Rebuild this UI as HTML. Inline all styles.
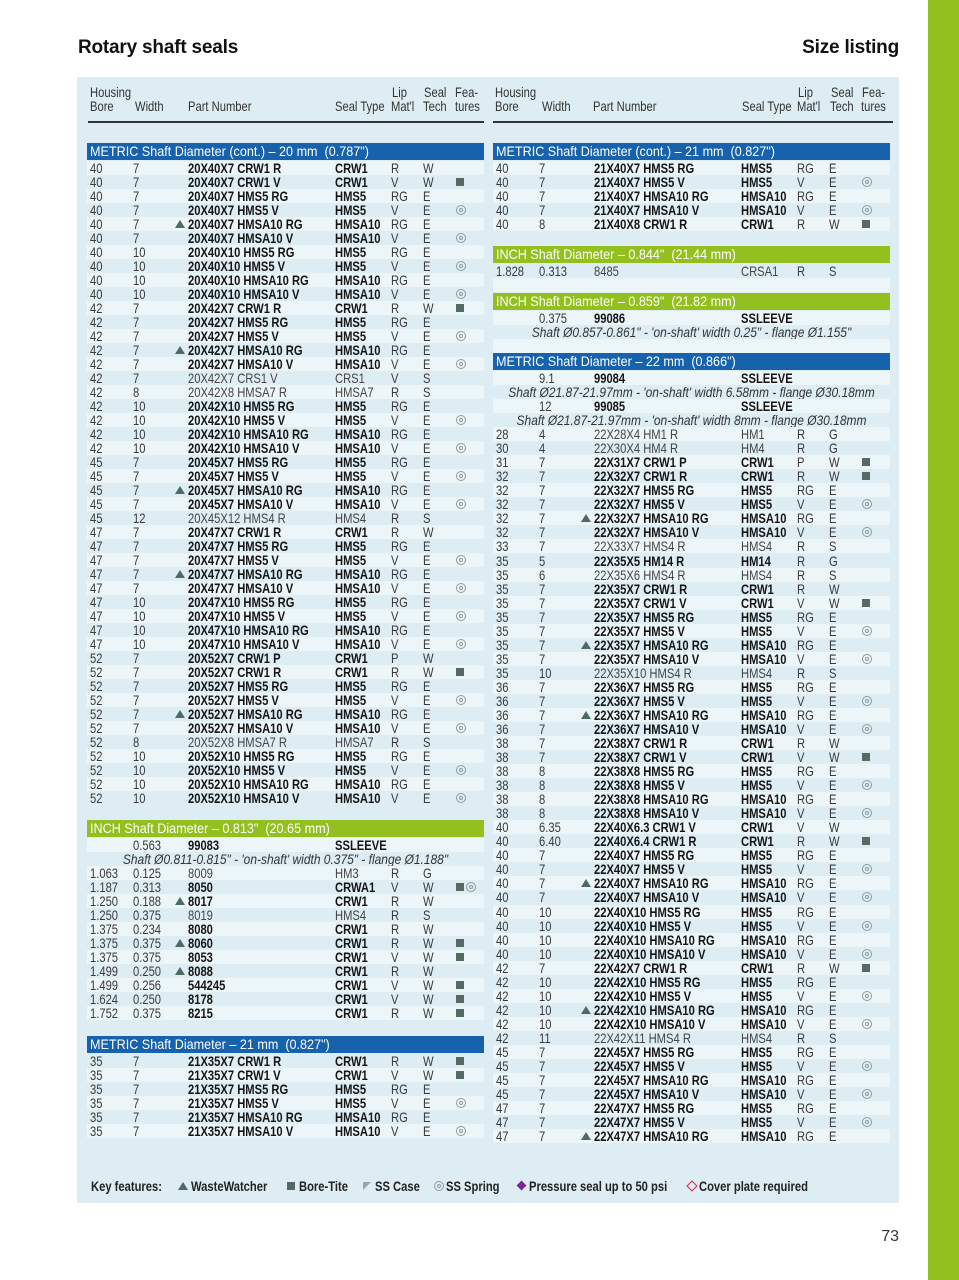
<!DOCTYPE html>
<html><head><meta charset="utf-8">
<style>
*{margin:0;padding:0}
body{width:959px;height:1280px;position:relative;background:#fff;font-family:"Liberation Sans",sans-serif;overflow:hidden;color:#333}
.panel{position:absolute;left:77px;top:77px;width:822px;height:1126px;background:#ddedf3}
.strip{position:absolute;left:928px;top:0;width:31px;height:1280px;background:#93c01f}
.title{position:absolute;top:38px;line-height:19px;font-size:19px;font-weight:bold;color:#111;letter-spacing:-0.2px;white-space:nowrap}
.pg{position:absolute;right:60px;top:1229px;line-height:16px;font-size:16px;color:#333}
.h{position:absolute;font-size:14px;line-height:14px;white-space:nowrap;transform:scaleX(.8);transform-origin:0 50%;color:#333}
.ul{position:absolute;top:121px;height:1.5px;background:#333}
.L{left:87px}.R{left:493px}
.r{position:absolute;height:14px;width:397px}
.r.a{background:#ecf5f8}
.r span{position:absolute;top:0;line-height:14px;font-size:14px;white-space:nowrap;transform:scaleX(.8);transform-origin:0 50%;color:#3a3a3a}
.c1{left:3px}.c2{left:46px}.c3{left:101px}.c4{left:248px}.c5{left:304px}.c6{left:336px}
.r .c3,.r .c4{font-weight:bold;color:#151515}
.r.n .c3,.r.n .c4{font-weight:normal;color:#444}
.r span.it{left:-50px;width:497px;text-align:center;font-style:italic;transform:scaleX(.855);transform-origin:50% 50%;color:#333}
.sq{position:absolute;left:369px;top:3px;width:8px;height:8px;background:#566965}
.ci{position:absolute;left:369px;top:2px;width:10px;height:10px;border-radius:50%;border:1px solid #8d9c9c;box-sizing:border-box}
.ci::after{content:"";position:absolute;left:2px;top:2px;width:4px;height:4px;border-radius:50%;border:1px solid #8d9c9c;box-sizing:border-box}
.ci.x{left:379px}
.tr{position:absolute;left:88px;top:3px;width:0;height:0;border-left:5px solid transparent;border-right:5px solid transparent;border-bottom:8px solid #4f6a65}
.bar{position:absolute;height:17px;width:397px;color:#fff}
.bar span{position:absolute;left:3px;top:0;line-height:17px;font-size:14px;white-space:nowrap;transform:scaleX(.9);transform-origin:0 50%}
.bl{background:#1662ad}.gr{background:#93c01f}
.k{position:absolute;top:1179px;line-height:14px;font-size:14px;font-weight:bold;color:#222;white-space:nowrap;transform:scaleX(.8);transform-origin:0 50%}
.ki{position:absolute}
</style></head><body>
<div class="strip"></div>
<div class="title" style="left:78px">Rotary shaft seals</div>
<div class="title" style="right:60px">Size listing</div>
<div class="panel"></div>

<!-- headers left -->
<div class="h" style="left:90px;top:85px">Housing</div>
<div class="h" style="left:90px;top:99px">Bore</div>
<div class="h" style="left:135px;top:99px">Width</div>
<div class="h" style="left:188px;top:99px">Part Number</div>
<div class="h" style="left:335px;top:99px">Seal Type</div>
<div class="h" style="left:392px;top:85px">Lip</div>
<div class="h" style="left:391px;top:99px">Mat'l</div>
<div class="h" style="left:424px;top:85px">Seal</div>
<div class="h" style="left:423px;top:99px">Tech</div>
<div class="h" style="left:455px;top:85px">Fea-</div>
<div class="h" style="left:455px;top:99px">tures</div>
<div class="ul" style="left:88px;width:396px"></div>
<!-- headers right -->
<div class="h" style="left:495px;top:85px">Housing</div>
<div class="h" style="left:495px;top:99px">Bore</div>
<div class="h" style="left:542px;top:99px">Width</div>
<div class="h" style="left:593px;top:99px">Part Number</div>
<div class="h" style="left:742px;top:99px">Seal Type</div>
<div class="h" style="left:798px;top:85px">Lip</div>
<div class="h" style="left:797px;top:99px">Mat'l</div>
<div class="h" style="left:831px;top:85px">Seal</div>
<div class="h" style="left:830px;top:99px">Tech</div>
<div class="h" style="left:862px;top:85px">Fea-</div>
<div class="h" style="left:861px;top:99px">tures</div>
<div class="ul" style="left:493px;width:400px"></div>

<!-- LEFT: METRIC 20 -->
<div class="bar bl L" style="top:143px"><span>METRIC Shaft Diameter (cont.) – 20 mm &nbsp;(0.787")</span></div>
<div class="r a L" style="top:161px"><span class="c1">40</span><span class="c2">7</span><span class="c3">20X40X7 CRW1 R</span><span class="c4">CRW1</span><span class="c5">R</span><span class="c6">W</span></div>
<div class="r L" style="top:175px"><span class="c1">40</span><span class="c2">7</span><span class="c3">20X40X7 CRW1 V</span><span class="c4">CRW1</span><span class="c5">V</span><span class="c6">W</span><i class="sq"></i></div>
<div class="r a L" style="top:189px"><span class="c1">40</span><span class="c2">7</span><span class="c3">20X40X7 HMS5 RG</span><span class="c4">HMS5</span><span class="c5">RG</span><span class="c6">E</span></div>
<div class="r L" style="top:203px"><span class="c1">40</span><span class="c2">7</span><span class="c3">20X40X7 HMS5 V</span><span class="c4">HMS5</span><span class="c5">V</span><span class="c6">E</span><i class="ci"></i></div>
<div class="r a L" style="top:217px"><span class="c1">40</span><span class="c2">7</span><i class="tr"></i><span class="c3">20X40X7 HMSA10 RG</span><span class="c4">HMSA10</span><span class="c5">RG</span><span class="c6">E</span></div>
<div class="r L" style="top:231px"><span class="c1">40</span><span class="c2">7</span><span class="c3">20X40X7 HMSA10 V</span><span class="c4">HMSA10</span><span class="c5">V</span><span class="c6">E</span><i class="ci"></i></div>
<div class="r a L" style="top:245px"><span class="c1">40</span><span class="c2">10</span><span class="c3">20X40X10 HMS5 RG</span><span class="c4">HMS5</span><span class="c5">RG</span><span class="c6">E</span></div>
<div class="r L" style="top:259px"><span class="c1">40</span><span class="c2">10</span><span class="c3">20X40X10 HMS5 V</span><span class="c4">HMS5</span><span class="c5">V</span><span class="c6">E</span><i class="ci"></i></div>
<div class="r a L" style="top:273px"><span class="c1">40</span><span class="c2">10</span><span class="c3">20X40X10 HMSA10 RG</span><span class="c4">HMSA10</span><span class="c5">RG</span><span class="c6">E</span></div>
<div class="r L" style="top:287px"><span class="c1">40</span><span class="c2">10</span><span class="c3">20X40X10 HMSA10 V</span><span class="c4">HMSA10</span><span class="c5">V</span><span class="c6">E</span><i class="ci"></i></div>
<div class="r a L" style="top:301px"><span class="c1">42</span><span class="c2">7</span><span class="c3">20X42X7 CRW1 R</span><span class="c4">CRW1</span><span class="c5">R</span><span class="c6">W</span><i class="sq"></i></div>
<div class="r L" style="top:315px"><span class="c1">42</span><span class="c2">7</span><span class="c3">20X42X7 HMS5 RG</span><span class="c4">HMS5</span><span class="c5">RG</span><span class="c6">E</span></div>
<div class="r a L" style="top:329px"><span class="c1">42</span><span class="c2">7</span><span class="c3">20X42X7 HMS5 V</span><span class="c4">HMS5</span><span class="c5">V</span><span class="c6">E</span><i class="ci"></i></div>
<div class="r L" style="top:343px"><span class="c1">42</span><span class="c2">7</span><i class="tr"></i><span class="c3">20X42X7 HMSA10 RG</span><span class="c4">HMSA10</span><span class="c5">RG</span><span class="c6">E</span></div>
<div class="r a L" style="top:357px"><span class="c1">42</span><span class="c2">7</span><span class="c3">20X42X7 HMSA10 V</span><span class="c4">HMSA10</span><span class="c5">V</span><span class="c6">E</span><i class="ci"></i></div>
<div class="r n L" style="top:371px"><span class="c1">42</span><span class="c2">7</span><span class="c3">20X42X7 CRS1 V</span><span class="c4">CRS1</span><span class="c5">V</span><span class="c6">S</span></div>
<div class="r a n L" style="top:385px"><span class="c1">42</span><span class="c2">8</span><span class="c3">20X42X8 HMSA7 R</span><span class="c4">HMSA7</span><span class="c5">R</span><span class="c6">S</span></div>
<div class="r L" style="top:399px"><span class="c1">42</span><span class="c2">10</span><span class="c3">20X42X10 HMS5 RG</span><span class="c4">HMS5</span><span class="c5">RG</span><span class="c6">E</span></div>
<div class="r a L" style="top:413px"><span class="c1">42</span><span class="c2">10</span><span class="c3">20X42X10 HMS5 V</span><span class="c4">HMS5</span><span class="c5">V</span><span class="c6">E</span><i class="ci"></i></div>
<div class="r L" style="top:427px"><span class="c1">42</span><span class="c2">10</span><span class="c3">20X42X10 HMSA10 RG</span><span class="c4">HMSA10</span><span class="c5">RG</span><span class="c6">E</span></div>
<div class="r a L" style="top:441px"><span class="c1">42</span><span class="c2">10</span><span class="c3">20X42X10 HMSA10 V</span><span class="c4">HMSA10</span><span class="c5">V</span><span class="c6">E</span><i class="ci"></i></div>
<div class="r L" style="top:455px"><span class="c1">45</span><span class="c2">7</span><span class="c3">20X45X7 HMS5 RG</span><span class="c4">HMS5</span><span class="c5">RG</span><span class="c6">E</span></div>
<div class="r a L" style="top:469px"><span class="c1">45</span><span class="c2">7</span><span class="c3">20X45X7 HMS5 V</span><span class="c4">HMS5</span><span class="c5">V</span><span class="c6">E</span><i class="ci"></i></div>
<div class="r L" style="top:483px"><span class="c1">45</span><span class="c2">7</span><i class="tr"></i><span class="c3">20X45X7 HMSA10 RG</span><span class="c4">HMSA10</span><span class="c5">RG</span><span class="c6">E</span></div>
<div class="r a L" style="top:497px"><span class="c1">45</span><span class="c2">7</span><span class="c3">20X45X7 HMSA10 V</span><span class="c4">HMSA10</span><span class="c5">V</span><span class="c6">E</span><i class="ci"></i></div>
<div class="r n L" style="top:511px"><span class="c1">45</span><span class="c2">12</span><span class="c3">20X45X12 HMS4 R</span><span class="c4">HMS4</span><span class="c5">R</span><span class="c6">S</span></div>
<div class="r a L" style="top:525px"><span class="c1">47</span><span class="c2">7</span><span class="c3">20X47X7 CRW1 R</span><span class="c4">CRW1</span><span class="c5">R</span><span class="c6">W</span></div>
<div class="r L" style="top:539px"><span class="c1">47</span><span class="c2">7</span><span class="c3">20X47X7 HMS5 RG</span><span class="c4">HMS5</span><span class="c5">RG</span><span class="c6">E</span></div>
<div class="r a L" style="top:553px"><span class="c1">47</span><span class="c2">7</span><span class="c3">20X47X7 HMS5 V</span><span class="c4">HMS5</span><span class="c5">V</span><span class="c6">E</span><i class="ci"></i></div>
<div class="r L" style="top:567px"><span class="c1">47</span><span class="c2">7</span><i class="tr"></i><span class="c3">20X47X7 HMSA10 RG</span><span class="c4">HMSA10</span><span class="c5">RG</span><span class="c6">E</span></div>
<div class="r a L" style="top:581px"><span class="c1">47</span><span class="c2">7</span><span class="c3">20X47X7 HMSA10 V</span><span class="c4">HMSA10</span><span class="c5">V</span><span class="c6">E</span><i class="ci"></i></div>
<div class="r L" style="top:595px"><span class="c1">47</span><span class="c2">10</span><span class="c3">20X47X10 HMS5 RG</span><span class="c4">HMS5</span><span class="c5">RG</span><span class="c6">E</span></div>
<div class="r a L" style="top:609px"><span class="c1">47</span><span class="c2">10</span><span class="c3">20X47X10 HMS5 V</span><span class="c4">HMS5</span><span class="c5">V</span><span class="c6">E</span><i class="ci"></i></div>
<div class="r L" style="top:623px"><span class="c1">47</span><span class="c2">10</span><span class="c3">20X47X10 HMSA10 RG</span><span class="c4">HMSA10</span><span class="c5">RG</span><span class="c6">E</span></div>
<div class="r a L" style="top:637px"><span class="c1">47</span><span class="c2">10</span><span class="c3">20X47X10 HMSA10 V</span><span class="c4">HMSA10</span><span class="c5">V</span><span class="c6">E</span><i class="ci"></i></div>
<div class="r L" style="top:651px"><span class="c1">52</span><span class="c2">7</span><span class="c3">20X52X7 CRW1 P</span><span class="c4">CRW1</span><span class="c5">P</span><span class="c6">W</span></div>
<div class="r a L" style="top:665px"><span class="c1">52</span><span class="c2">7</span><span class="c3">20X52X7 CRW1 R</span><span class="c4">CRW1</span><span class="c5">R</span><span class="c6">W</span><i class="sq"></i></div>
<div class="r L" style="top:679px"><span class="c1">52</span><span class="c2">7</span><span class="c3">20X52X7 HMS5 RG</span><span class="c4">HMS5</span><span class="c5">RG</span><span class="c6">E</span></div>
<div class="r a L" style="top:693px"><span class="c1">52</span><span class="c2">7</span><span class="c3">20X52X7 HMS5 V</span><span class="c4">HMS5</span><span class="c5">V</span><span class="c6">E</span><i class="ci"></i></div>
<div class="r L" style="top:707px"><span class="c1">52</span><span class="c2">7</span><i class="tr"></i><span class="c3">20X52X7 HMSA10 RG</span><span class="c4">HMSA10</span><span class="c5">RG</span><span class="c6">E</span></div>
<div class="r a L" style="top:721px"><span class="c1">52</span><span class="c2">7</span><span class="c3">20X52X7 HMSA10 V</span><span class="c4">HMSA10</span><span class="c5">V</span><span class="c6">E</span><i class="ci"></i></div>
<div class="r n L" style="top:735px"><span class="c1">52</span><span class="c2">8</span><span class="c3">20X52X8 HMSA7 R</span><span class="c4">HMSA7</span><span class="c5">R</span><span class="c6">S</span></div>
<div class="r a L" style="top:749px"><span class="c1">52</span><span class="c2">10</span><span class="c3">20X52X10 HMS5 RG</span><span class="c4">HMS5</span><span class="c5">RG</span><span class="c6">E</span></div>
<div class="r L" style="top:763px"><span class="c1">52</span><span class="c2">10</span><span class="c3">20X52X10 HMS5 V</span><span class="c4">HMS5</span><span class="c5">V</span><span class="c6">E</span><i class="ci"></i></div>
<div class="r a L" style="top:777px"><span class="c1">52</span><span class="c2">10</span><span class="c3">20X52X10 HMSA10 RG</span><span class="c4">HMSA10</span><span class="c5">RG</span><span class="c6">E</span></div>
<div class="r L" style="top:791px"><span class="c1">52</span><span class="c2">10</span><span class="c3">20X52X10 HMSA10 V</span><span class="c4">HMSA10</span><span class="c5">V</span><span class="c6">E</span><i class="ci"></i></div>

<!-- LEFT: INCH 0.813 -->
<div class="bar gr L" style="top:820px"><span>INCH Shaft Diameter – 0.813" &nbsp;(20.65 mm)</span></div>
<div class="r a L" style="top:838px"><span class="c2">0.563</span><span class="c3">99083</span><span class="c4">SSLEEVE</span></div>
<div class="r L" style="top:852px"><span class="it">Shaft Ø0.811-0.815" - 'on-shaft' width 0.375" - flange Ø1.188"</span></div>
<div class="r a n L" style="top:866px"><span class="c1">1.063</span><span class="c2">0.125</span><span class="c3">8009</span><span class="c4">HM3</span><span class="c5">R</span><span class="c6">G</span></div>
<div class="r L" style="top:880px"><span class="c1">1.187</span><span class="c2">0.313</span><span class="c3">8050</span><span class="c4">CRWA1</span><span class="c5">V</span><span class="c6">W</span><i class="sq"></i><i class="ci x"></i></div>
<div class="r a L" style="top:894px"><span class="c1">1.250</span><span class="c2">0.188</span><i class="tr"></i><span class="c3">8017</span><span class="c4">CRW1</span><span class="c5">R</span><span class="c6">W</span></div>
<div class="r n L" style="top:908px"><span class="c1">1.250</span><span class="c2">0.375</span><span class="c3">8019</span><span class="c4">HMS4</span><span class="c5">R</span><span class="c6">S</span></div>
<div class="r a L" style="top:922px"><span class="c1">1.375</span><span class="c2">0.234</span><span class="c3">8080</span><span class="c4">CRW1</span><span class="c5">R</span><span class="c6">W</span></div>
<div class="r L" style="top:936px"><span class="c1">1.375</span><span class="c2">0.375</span><i class="tr"></i><span class="c3">8060</span><span class="c4">CRW1</span><span class="c5">R</span><span class="c6">W</span><i class="sq"></i></div>
<div class="r a L" style="top:950px"><span class="c1">1.375</span><span class="c2">0.375</span><span class="c3">8053</span><span class="c4">CRW1</span><span class="c5">V</span><span class="c6">W</span><i class="sq"></i></div>
<div class="r L" style="top:964px"><span class="c1">1.499</span><span class="c2">0.250</span><i class="tr"></i><span class="c3">8088</span><span class="c4">CRW1</span><span class="c5">R</span><span class="c6">W</span></div>
<div class="r a L" style="top:978px"><span class="c1">1.499</span><span class="c2">0.256</span><span class="c3">544245</span><span class="c4">CRW1</span><span class="c5">V</span><span class="c6">W</span><i class="sq"></i></div>
<div class="r L" style="top:992px"><span class="c1">1.624</span><span class="c2">0.250</span><span class="c3">8178</span><span class="c4">CRW1</span><span class="c5">V</span><span class="c6">W</span><i class="sq"></i></div>
<div class="r a L" style="top:1006px"><span class="c1">1.752</span><span class="c2">0.375</span><span class="c3">8215</span><span class="c4">CRW1</span><span class="c5">R</span><span class="c6">W</span><i class="sq"></i></div>

<!-- LEFT: METRIC 21 -->
<div class="bar bl L" style="top:1036px"><span>METRIC Shaft Diameter – 21 mm &nbsp;(0.827")</span></div>
<div class="r L" style="top:1054px"><span class="c1">35</span><span class="c2">7</span><span class="c3">21X35X7 CRW1 R</span><span class="c4">CRW1</span><span class="c5">R</span><span class="c6">W</span><i class="sq"></i></div>
<div class="r a L" style="top:1068px"><span class="c1">35</span><span class="c2">7</span><span class="c3">21X35X7 CRW1 V</span><span class="c4">CRW1</span><span class="c5">V</span><span class="c6">W</span><i class="sq"></i></div>
<div class="r L" style="top:1082px"><span class="c1">35</span><span class="c2">7</span><span class="c3">21X35X7 HMS5 RG</span><span class="c4">HMS5</span><span class="c5">RG</span><span class="c6">E</span></div>
<div class="r a L" style="top:1096px"><span class="c1">35</span><span class="c2">7</span><span class="c3">21X35X7 HMS5 V</span><span class="c4">HMS5</span><span class="c5">V</span><span class="c6">E</span><i class="ci"></i></div>
<div class="r L" style="top:1110px"><span class="c1">35</span><span class="c2">7</span><span class="c3">21X35X7 HMSA10 RG</span><span class="c4">HMSA10</span><span class="c5">RG</span><span class="c6">E</span></div>
<div class="r a L" style="top:1124px"><span class="c1">35</span><span class="c2">7</span><span class="c3">21X35X7 HMSA10 V</span><span class="c4">HMSA10</span><span class="c5">V</span><span class="c6">E</span><i class="ci"></i></div>

<!-- RIGHT: METRIC 21 cont -->
<div class="bar bl R" style="top:143px"><span>METRIC Shaft Diameter (cont.) – 21 mm &nbsp;(0.827")</span></div>
<div class="r a R" style="top:161px"><span class="c1">40</span><span class="c2">7</span><span class="c3">21X40X7 HMS5 RG</span><span class="c4">HMS5</span><span class="c5">RG</span><span class="c6">E</span></div>
<div class="r R" style="top:175px"><span class="c1">40</span><span class="c2">7</span><span class="c3">21X40X7 HMS5 V</span><span class="c4">HMS5</span><span class="c5">V</span><span class="c6">E</span><i class="ci"></i></div>
<div class="r a R" style="top:189px"><span class="c1">40</span><span class="c2">7</span><span class="c3">21X40X7 HMSA10 RG</span><span class="c4">HMSA10</span><span class="c5">RG</span><span class="c6">E</span></div>
<div class="r R" style="top:203px"><span class="c1">40</span><span class="c2">7</span><span class="c3">21X40X7 HMSA10 V</span><span class="c4">HMSA10</span><span class="c5">V</span><span class="c6">E</span><i class="ci"></i></div>
<div class="r a R" style="top:217px"><span class="c1">40</span><span class="c2">8</span><span class="c3">21X40X8 CRW1 R</span><span class="c4">CRW1</span><span class="c5">R</span><span class="c6">W</span><i class="sq"></i></div>

<!-- RIGHT: INCH 0.844 -->
<div class="bar gr R" style="top:246px"><span>INCH Shaft Diameter – 0.844" &nbsp;(21.44 mm)</span></div>
<div class="r n R" style="top:264px"><span class="c1">1.828</span><span class="c2">0.313</span><span class="c3">8485</span><span class="c4">CRSA1</span><span class="c5">R</span><span class="c6">S</span></div>
<div class="r a R" style="top:278px"></div>

<!-- RIGHT: INCH 0.859 -->
<div class="bar gr R" style="top:293px"><span>INCH Shaft Diameter – 0.859" &nbsp;(21.82 mm)</span></div>
<div class="r a R" style="top:311px"><span class="c2">0.375</span><span class="c3">99086</span><span class="c4">SSLEEVE</span></div>
<div class="r R" style="top:325px"><span class="it">Shaft Ø0.857-0.861" - 'on-shaft' width 0.25" - flange Ø1.155"</span></div>
<div class="r a R" style="top:339px"></div>

<!-- RIGHT: METRIC 22 -->
<div class="bar bl R" style="top:353px"><span>METRIC Shaft Diameter – 22 mm &nbsp;(0.866")</span></div>
<div class="r a R" style="top:371px"><span class="c2">9.1</span><span class="c3">99084</span><span class="c4">SSLEEVE</span></div>
<div class="r R" style="top:385px"><span class="it">Shaft Ø21.87-21.97mm - 'on-shaft' width 6.58mm - flange Ø30.18mm</span></div>
<div class="r a R" style="top:399px"><span class="c2">12</span><span class="c3">99085</span><span class="c4">SSLEEVE</span></div>
<div class="r R" style="top:413px"><span class="it">Shaft Ø21.87-21.97mm - 'on-shaft' width 8mm - flange Ø30.18mm</span></div>
<div class="r a n R" style="top:427px"><span class="c1">28</span><span class="c2">4</span><span class="c3">22X28X4 HM1 R</span><span class="c4">HM1</span><span class="c5">R</span><span class="c6">G</span></div>
<div class="r n R" style="top:441px"><span class="c1">30</span><span class="c2">4</span><span class="c3">22X30X4 HM4 R</span><span class="c4">HM4</span><span class="c5">R</span><span class="c6">G</span></div>
<div class="r a R" style="top:455px"><span class="c1">31</span><span class="c2">7</span><span class="c3">22X31X7 CRW1 P</span><span class="c4">CRW1</span><span class="c5">P</span><span class="c6">W</span><i class="sq"></i></div>
<div class="r R" style="top:469px"><span class="c1">32</span><span class="c2">7</span><span class="c3">22X32X7 CRW1 R</span><span class="c4">CRW1</span><span class="c5">R</span><span class="c6">W</span><i class="sq"></i></div>
<div class="r a R" style="top:483px"><span class="c1">32</span><span class="c2">7</span><span class="c3">22X32X7 HMS5 RG</span><span class="c4">HMS5</span><span class="c5">RG</span><span class="c6">E</span></div>
<div class="r R" style="top:497px"><span class="c1">32</span><span class="c2">7</span><span class="c3">22X32X7 HMS5 V</span><span class="c4">HMS5</span><span class="c5">V</span><span class="c6">E</span><i class="ci"></i></div>
<div class="r a R" style="top:511px"><span class="c1">32</span><span class="c2">7</span><i class="tr"></i><span class="c3">22X32X7 HMSA10 RG</span><span class="c4">HMSA10</span><span class="c5">RG</span><span class="c6">E</span></div>
<div class="r R" style="top:525px"><span class="c1">32</span><span class="c2">7</span><span class="c3">22X32X7 HMSA10 V</span><span class="c4">HMSA10</span><span class="c5">V</span><span class="c6">E</span><i class="ci"></i></div>
<div class="r a n R" style="top:539px"><span class="c1">33</span><span class="c2">7</span><span class="c3">22X33X7 HMS4 R</span><span class="c4">HMS4</span><span class="c5">R</span><span class="c6">S</span></div>
<div class="r R" style="top:554px"><span class="c1">35</span><span class="c2">5</span><span class="c3">22X35X5 HM14 R</span><span class="c4">HM14</span><span class="c5">R</span><span class="c6">G</span></div>
<div class="r a n R" style="top:568px"><span class="c1">35</span><span class="c2">6</span><span class="c3">22X35X6 HMS4 R</span><span class="c4">HMS4</span><span class="c5">R</span><span class="c6">S</span></div>
<div class="r R" style="top:582px"><span class="c1">35</span><span class="c2">7</span><span class="c3">22X35X7 CRW1 R</span><span class="c4">CRW1</span><span class="c5">R</span><span class="c6">W</span></div>
<div class="r a R" style="top:596px"><span class="c1">35</span><span class="c2">7</span><span class="c3">22X35X7 CRW1 V</span><span class="c4">CRW1</span><span class="c5">V</span><span class="c6">W</span><i class="sq"></i></div>
<div class="r R" style="top:610px"><span class="c1">35</span><span class="c2">7</span><span class="c3">22X35X7 HMS5 RG</span><span class="c4">HMS5</span><span class="c5">RG</span><span class="c6">E</span></div>
<div class="r a R" style="top:624px"><span class="c1">35</span><span class="c2">7</span><span class="c3">22X35X7 HMS5 V</span><span class="c4">HMS5</span><span class="c5">V</span><span class="c6">E</span><i class="ci"></i></div>
<div class="r R" style="top:638px"><span class="c1">35</span><span class="c2">7</span><i class="tr"></i><span class="c3">22X35X7 HMSA10 RG</span><span class="c4">HMSA10</span><span class="c5">RG</span><span class="c6">E</span></div>
<div class="r a R" style="top:652px"><span class="c1">35</span><span class="c2">7</span><span class="c3">22X35X7 HMSA10 V</span><span class="c4">HMSA10</span><span class="c5">V</span><span class="c6">E</span><i class="ci"></i></div>
<div class="r n R" style="top:666px"><span class="c1">35</span><span class="c2">10</span><span class="c3">22X35X10 HMS4 R</span><span class="c4">HMS4</span><span class="c5">R</span><span class="c6">S</span></div>
<div class="r a R" style="top:680px"><span class="c1">36</span><span class="c2">7</span><span class="c3">22X36X7 HMS5 RG</span><span class="c4">HMS5</span><span class="c5">RG</span><span class="c6">E</span></div>
<div class="r R" style="top:694px"><span class="c1">36</span><span class="c2">7</span><span class="c3">22X36X7 HMS5 V</span><span class="c4">HMS5</span><span class="c5">V</span><span class="c6">E</span><i class="ci"></i></div>
<div class="r a R" style="top:708px"><span class="c1">36</span><span class="c2">7</span><i class="tr"></i><span class="c3">22X36X7 HMSA10 RG</span><span class="c4">HMSA10</span><span class="c5">RG</span><span class="c6">E</span></div>
<div class="r R" style="top:722px"><span class="c1">36</span><span class="c2">7</span><span class="c3">22X36X7 HMSA10 V</span><span class="c4">HMSA10</span><span class="c5">V</span><span class="c6">E</span><i class="ci"></i></div>
<div class="r a R" style="top:736px"><span class="c1">38</span><span class="c2">7</span><span class="c3">22X38X7 CRW1 R</span><span class="c4">CRW1</span><span class="c5">R</span><span class="c6">W</span></div>
<div class="r R" style="top:750px"><span class="c1">38</span><span class="c2">7</span><span class="c3">22X38X7 CRW1 V</span><span class="c4">CRW1</span><span class="c5">V</span><span class="c6">W</span><i class="sq"></i></div>
<div class="r a R" style="top:764px"><span class="c1">38</span><span class="c2">8</span><span class="c3">22X38X8 HMS5 RG</span><span class="c4">HMS5</span><span class="c5">RG</span><span class="c6">E</span></div>
<div class="r R" style="top:778px"><span class="c1">38</span><span class="c2">8</span><span class="c3">22X38X8 HMS5 V</span><span class="c4">HMS5</span><span class="c5">V</span><span class="c6">E</span><i class="ci"></i></div>
<div class="r a R" style="top:792px"><span class="c1">38</span><span class="c2">8</span><span class="c3">22X38X8 HMSA10 RG</span><span class="c4">HMSA10</span><span class="c5">RG</span><span class="c6">E</span></div>
<div class="r R" style="top:806px"><span class="c1">38</span><span class="c2">8</span><span class="c3">22X38X8 HMSA10 V</span><span class="c4">HMSA10</span><span class="c5">V</span><span class="c6">E</span><i class="ci"></i></div>
<div class="r a R" style="top:820px"><span class="c1">40</span><span class="c2">6.35</span><span class="c3">22X40X6.3 CRW1 V</span><span class="c4">CRW1</span><span class="c5">V</span><span class="c6">W</span></div>
<div class="r R" style="top:834px"><span class="c1">40</span><span class="c2">6.40</span><span class="c3">22X40X6.4 CRW1 R</span><span class="c4">CRW1</span><span class="c5">R</span><span class="c6">W</span><i class="sq"></i></div>
<div class="r a R" style="top:848px"><span class="c1">40</span><span class="c2">7</span><span class="c3">22X40X7 HMS5 RG</span><span class="c4">HMS5</span><span class="c5">RG</span><span class="c6">E</span></div>
<div class="r R" style="top:862px"><span class="c1">40</span><span class="c2">7</span><span class="c3">22X40X7 HMS5 V</span><span class="c4">HMS5</span><span class="c5">V</span><span class="c6">E</span><i class="ci"></i></div>
<div class="r a R" style="top:876px"><span class="c1">40</span><span class="c2">7</span><i class="tr"></i><span class="c3">22X40X7 HMSA10 RG</span><span class="c4">HMSA10</span><span class="c5">RG</span><span class="c6">E</span></div>
<div class="r R" style="top:890px"><span class="c1">40</span><span class="c2">7</span><span class="c3">22X40X7 HMSA10 V</span><span class="c4">HMSA10</span><span class="c5">V</span><span class="c6">E</span><i class="ci"></i></div>
<div class="r a R" style="top:905px"><span class="c1">40</span><span class="c2">10</span><span class="c3">22X40X10 HMS5 RG</span><span class="c4">HMS5</span><span class="c5">RG</span><span class="c6">E</span></div>
<div class="r R" style="top:919px"><span class="c1">40</span><span class="c2">10</span><span class="c3">22X40X10 HMS5 V</span><span class="c4">HMS5</span><span class="c5">V</span><span class="c6">E</span><i class="ci"></i></div>
<div class="r a R" style="top:933px"><span class="c1">40</span><span class="c2">10</span><span class="c3">22X40X10 HMSA10 RG</span><span class="c4">HMSA10</span><span class="c5">RG</span><span class="c6">E</span></div>
<div class="r R" style="top:947px"><span class="c1">40</span><span class="c2">10</span><span class="c3">22X40X10 HMSA10 V</span><span class="c4">HMSA10</span><span class="c5">V</span><span class="c6">E</span><i class="ci"></i></div>
<div class="r a R" style="top:961px"><span class="c1">42</span><span class="c2">7</span><span class="c3">22X42X7 CRW1 R</span><span class="c4">CRW1</span><span class="c5">R</span><span class="c6">W</span><i class="sq"></i></div>
<div class="r R" style="top:975px"><span class="c1">42</span><span class="c2">10</span><span class="c3">22X42X10 HMS5 RG</span><span class="c4">HMS5</span><span class="c5">RG</span><span class="c6">E</span></div>
<div class="r a R" style="top:989px"><span class="c1">42</span><span class="c2">10</span><span class="c3">22X42X10 HMS5 V</span><span class="c4">HMS5</span><span class="c5">V</span><span class="c6">E</span><i class="ci"></i></div>
<div class="r R" style="top:1003px"><span class="c1">42</span><span class="c2">10</span><i class="tr"></i><span class="c3">22X42X10 HMSA10 RG</span><span class="c4">HMSA10</span><span class="c5">RG</span><span class="c6">E</span></div>
<div class="r a R" style="top:1017px"><span class="c1">42</span><span class="c2">10</span><span class="c3">22X42X10 HMSA10 V</span><span class="c4">HMSA10</span><span class="c5">V</span><span class="c6">E</span><i class="ci"></i></div>
<div class="r n R" style="top:1031px"><span class="c1">42</span><span class="c2">11</span><span class="c3">22X42X11 HMS4 R</span><span class="c4">HMS4</span><span class="c5">R</span><span class="c6">S</span></div>
<div class="r a R" style="top:1045px"><span class="c1">45</span><span class="c2">7</span><span class="c3">22X45X7 HMS5 RG</span><span class="c4">HMS5</span><span class="c5">RG</span><span class="c6">E</span></div>
<div class="r R" style="top:1059px"><span class="c1">45</span><span class="c2">7</span><span class="c3">22X45X7 HMS5 V</span><span class="c4">HMS5</span><span class="c5">V</span><span class="c6">E</span><i class="ci"></i></div>
<div class="r a R" style="top:1073px"><span class="c1">45</span><span class="c2">7</span><span class="c3">22X45X7 HMSA10 RG</span><span class="c4">HMSA10</span><span class="c5">RG</span><span class="c6">E</span></div>
<div class="r R" style="top:1087px"><span class="c1">45</span><span class="c2">7</span><span class="c3">22X45X7 HMSA10 V</span><span class="c4">HMSA10</span><span class="c5">V</span><span class="c6">E</span><i class="ci"></i></div>
<div class="r a R" style="top:1101px"><span class="c1">47</span><span class="c2">7</span><span class="c3">22X47X7 HMS5 RG</span><span class="c4">HMS5</span><span class="c5">RG</span><span class="c6">E</span></div>
<div class="r R" style="top:1115px"><span class="c1">47</span><span class="c2">7</span><span class="c3">22X47X7 HMS5 V</span><span class="c4">HMS5</span><span class="c5">V</span><span class="c6">E</span><i class="ci"></i></div>
<div class="r a R" style="top:1129px"><span class="c1">47</span><span class="c2">7</span><i class="tr"></i><span class="c3">22X47X7 HMSA10 RG</span><span class="c4">HMSA10</span><span class="c5">RG</span><span class="c6">E</span></div>

<!-- Key features -->
<div class="k" style="left:91px">Key features:</div>
<i class="ki" style="left:178px;top:1182px;width:0;height:0;border-left:5px solid transparent;border-right:5px solid transparent;border-bottom:8px solid #4f6a65"></i>
<div class="k" style="left:191px">WasteWatcher</div>
<i class="ki" style="left:287px;top:1182px;width:8px;height:8px;background:#566965"></i>
<div class="k" style="left:299px">Bore-Tite</div>
<i class="ki" style="left:363px;top:1182px;width:0;height:0;border-top:8px solid #9aa6a6;border-right:8px solid transparent"></i>
<div class="k" style="left:375px">SS Case</div>
<i class="ki ci" style="left:434px;top:1181px"></i>
<div class="k" style="left:446px">SS Spring</div>
<i class="ki" style="left:518px;top:1182px;width:7px;height:7px;background:#7a2a8c;transform:rotate(45deg)"></i>
<div class="k" style="left:529px">Pressure seal up to 50 psi</div>
<i class="ki" style="left:688px;top:1182px;width:6px;height:6px;border:1.3px solid #d3243c;transform:rotate(45deg)"></i>
<div class="k" style="left:699px">Cover plate required</div>

<div class="pg">73</div>
</body></html>
